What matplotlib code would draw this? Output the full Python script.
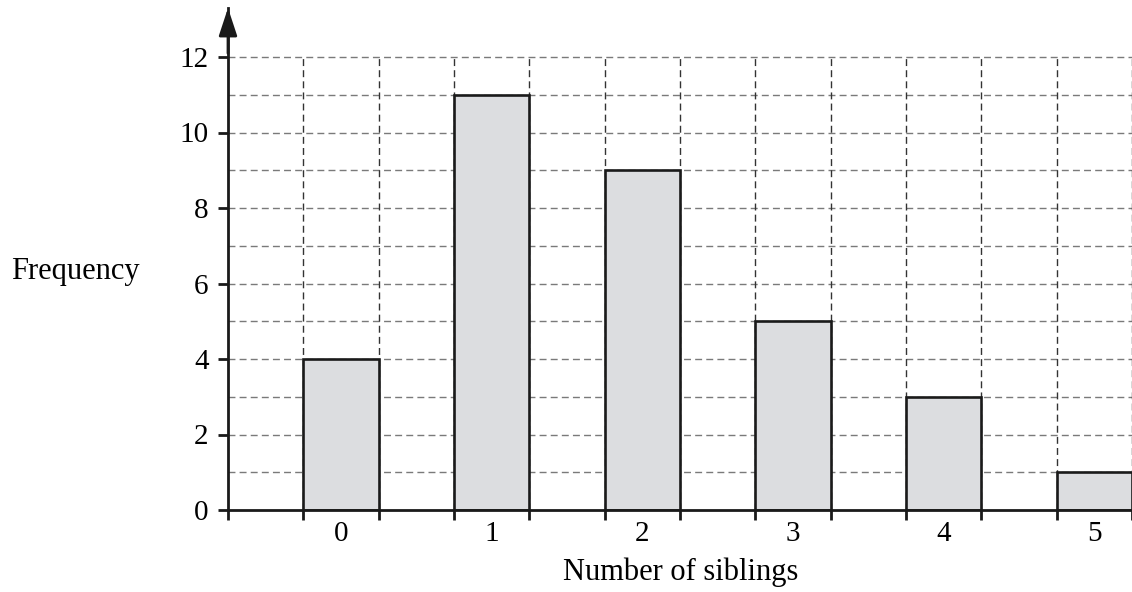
import matplotlib
matplotlib.use("Agg")
import matplotlib.pyplot as plt
import numpy as np

plt.rcParams['font.family'] = ['Liberation Serif', 'DejaVu Serif']

categories = [0, 1, 2, 3, 4, 5]
frequencies = [4, 11, 9, 5, 3, 1]
y_ticks = [0, 2, 4, 6, 8, 10, 12]

fig = plt.figure(figsize=(11.32, 5.92), dpi=100)
ax = fig.add_axes([228/1132, 82/592, 1 - 228/1132, (510-8)/592])

x_left, x_right = -0.75, 5.22
y_top = (510 - 8) / 37.75
ax.set_xlim(x_left, x_right)
ax.set_ylim(0, y_top)

bar_w = 0.5
cats = np.array(categories)
# grid
for yv in range(1, 13):
    ax.axhline(yv, color='#7a7a7a', lw=1.0, ls=(0, (5, 3)), zorder=1)
edges = np.concatenate([cats - bar_w/2, cats + bar_w/2])
edges = np.unique(edges)
ax.vlines(edges, 0, 12, colors='#333333', lw=1.0, linestyles=(0, (5, 3)), zorder=1)

ax.bar(cats, frequencies, width=bar_w, color='#dcdde0', edgecolor='#1a1a1a',
       linewidth=1.9, zorder=2)

for s in ['top', 'right']:
    ax.spines[s].set_visible(False)
for s in ['left', 'bottom']:
    ax.spines[s].set_linewidth(2.0)
    ax.spines[s].set_color('#1a1a1a')
    ax.spines[s].set_zorder(3)

ax.set_yticks(y_ticks)
ax.set_yticklabels([str(v) for v in y_ticks], fontsize=21)
ax.tick_params(axis='y', length=7, width=2.0, color='#1a1a1a', pad=7)

tick_edges = np.concatenate([[x_left], edges])
ax.set_xticks(tick_edges)
ax.set_xticklabels([''] * len(tick_edges))
ax.tick_params(axis='x', which='major', length=7, width=2.0, color='#1a1a1a')
ax.set_xticks(cats, minor=True)
ax.set_xticklabels([str(c) for c in categories], minor=True, fontsize=21)
ax.tick_params(axis='x', which='minor', length=0, pad=8)

# arrow on y-axis
ax.annotate('', xy=(x_left, y_top), xytext=(x_left, y_top - 1.2),
            xycoords='data', textcoords='data',
            arrowprops=dict(arrowstyle='-|>,head_length=1.0,head_width=0.33',
                            mutation_scale=17,
                            color='#1a1a1a', lw=2.0, shrinkA=0, shrinkB=0),
            annotation_clip=False, zorder=4)

fig.text(75/1132, 1 - 272/592, 'Frequency', fontsize=22, ha='center', va='center')
fig.text(681/1132, 1 - 572/592, 'Number of siblings', fontsize=22, ha='center', va='center')

fig.savefig('out.png', dpi=100)
